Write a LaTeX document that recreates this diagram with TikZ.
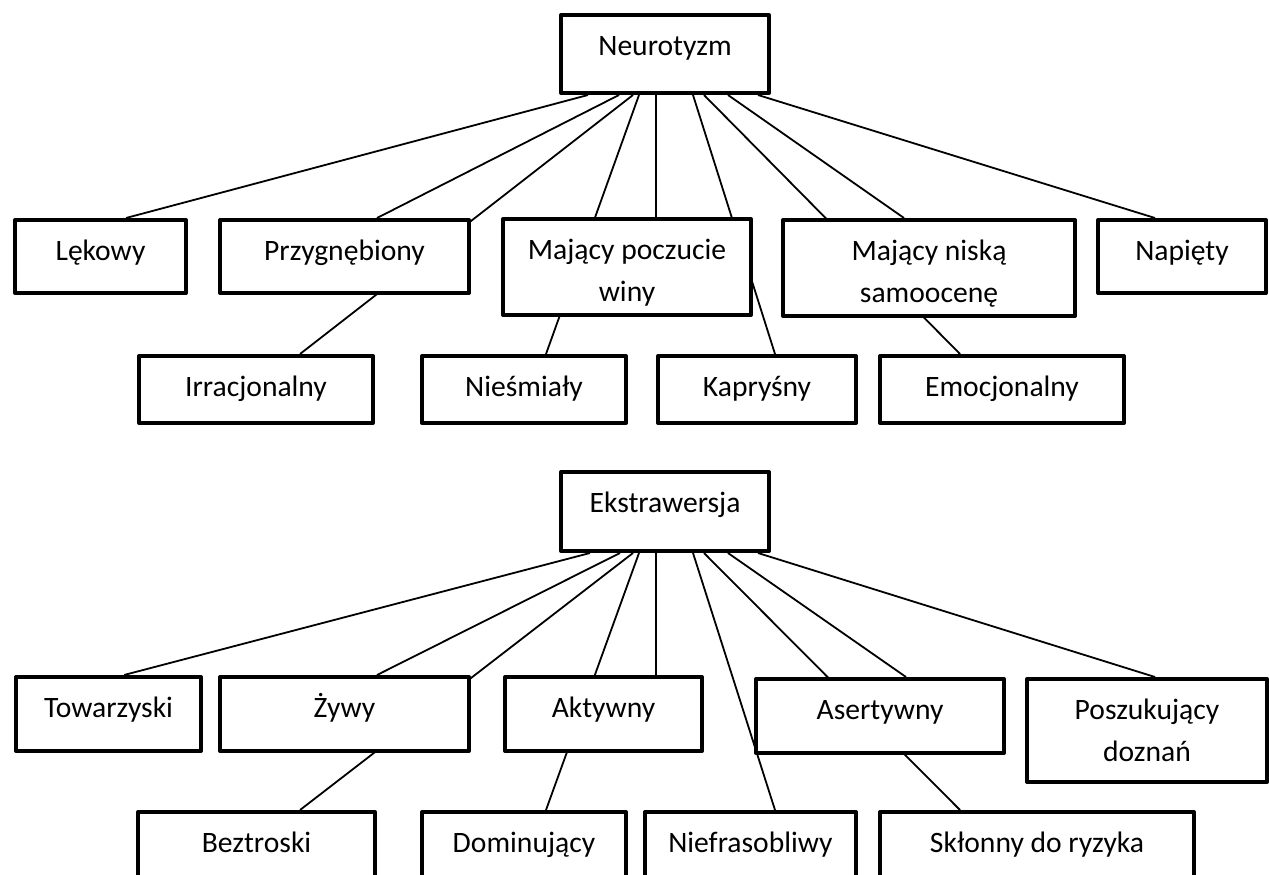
\documentclass[tikz,border=0pt]{standalone}
\usepackage{fontspec}
\setmainfont{Carlito}
\usetikzlibrary{calc,backgrounds}

\tikzset{
  cecha/.style 2 args={draw, line width=2pt, fill=white, anchor=north west,
    align=flush center, inner sep=0pt, text height=20pt,
    text width=#1, text depth=#2, font=\fontsize{14.8pt}{21pt}\selectfont},
  linia/.style={line width=0.9pt}
}

\begin{document}
\begin{tikzpicture}[x=0.5pt, y=-0.5pt, line cap=round, line join=round]

% ----------------- Page frame (1 unit = 1 px of the original) -----------------
\useasboundingbox (0,0) rectangle (1269,874);

% ----------------- Neurotyzm -----------------
\node[cecha={104pt}{19pt}]   (neu) at (559,13)  {Neurotyzm};

\node[cecha={85.5pt}{16.5pt}]  (lek) at (13,218)   {Lękowy};
\node[cecha={124.5pt}{16.5pt}] (prz) at (218,218)  {Przygnębiony};
\node[cecha={124pt}{28pt}]     (win) at (501,217)  {Mający poczucie\\winy};
\node[cecha={146pt}{28pt}]     (sam) at (781,218)  {Mający niską\\samoocenę};
\node[cecha={84pt}{16.5pt}]    (nap) at (1096,218) {Napięty};

\node[cecha={117pt}{13.5pt}]   (irr) at (137,354)  {Irracjonalny};
\node[cecha={102pt}{13.5pt}]   (nie) at (420,354)  {Nieśmiały};
\node[cecha={99pt}{13.5pt}]    (kap) at (656,354)  {Kapryśny};
\node[cecha={122pt}{13.5pt}]   (emo) at (878,354)  {Emocjonalny};

% ----------------- Ekstrawersja -----------------
\node[cecha={104pt}{19.5pt}]   (eks) at (559,470)  {Ekstrawersja};

\node[cecha={92.5pt}{17pt}]    (tow) at (14,675)   {Towarzyski};
\node[cecha={124.5pt}{17pt}]   (zyw) at (218,675)  {Żywy};
\node[cecha={98.5pt}{17pt}]    (akt) at (503,675)  {Aktywny};
\node[cecha={124pt}{17pt}]     (ase) at (754,677)  {Asertywny};
\node[cecha={120pt}{31.5pt}]   (pos) at (1025,677) {Poszukujący\\doznań};

\node[cecha={118.5pt}{13.5pt}] (bez) at (136,810)  {Beztroski};
\node[cecha={102pt}{13.5pt}]   (dom) at (420,810)  {Dominujący};
\node[cecha={105.5pt}{13.5pt}] (nif) at (643,810)  {Niefrasobliwy};
\node[cecha={157pt}{13.5pt}]   (skl) at (878,810)  {Skłonny do ryzyka};

% ----------------- Connectors (behind the boxes) -----------------
\begin{scope}[on background layer]
  % start offset on parent / child / end offset on child
  \foreach \ps/\cel/\pk in {-77/lek/25.5, -46/prz/32.5, -32/irr/44, -26/nie/22,
                            -9/win/29, 28/kap/18, 39/emo/-42, 63/sam/-25, 93/nap/-27}
    \draw[linia] ($(neu.south)+(\ps,0)$) -- ($(\cel.north)+(\pk,0)$);

  \foreach \ps/\cel/\pk in {-75/tow/15.5, -45/zyw/32.5, -32/bez/43.5, -26/dom/22,
                            -9/akt/52.5, 28/nif/24.5, 39/skl/-77, 63/ase/26, 93/pos/8}
    \draw[linia] ($(eks.south)+(\ps,0)$) -- ($(\cel.north)+(\pk,0)$);
\end{scope}

\end{tikzpicture}
\end{document}
